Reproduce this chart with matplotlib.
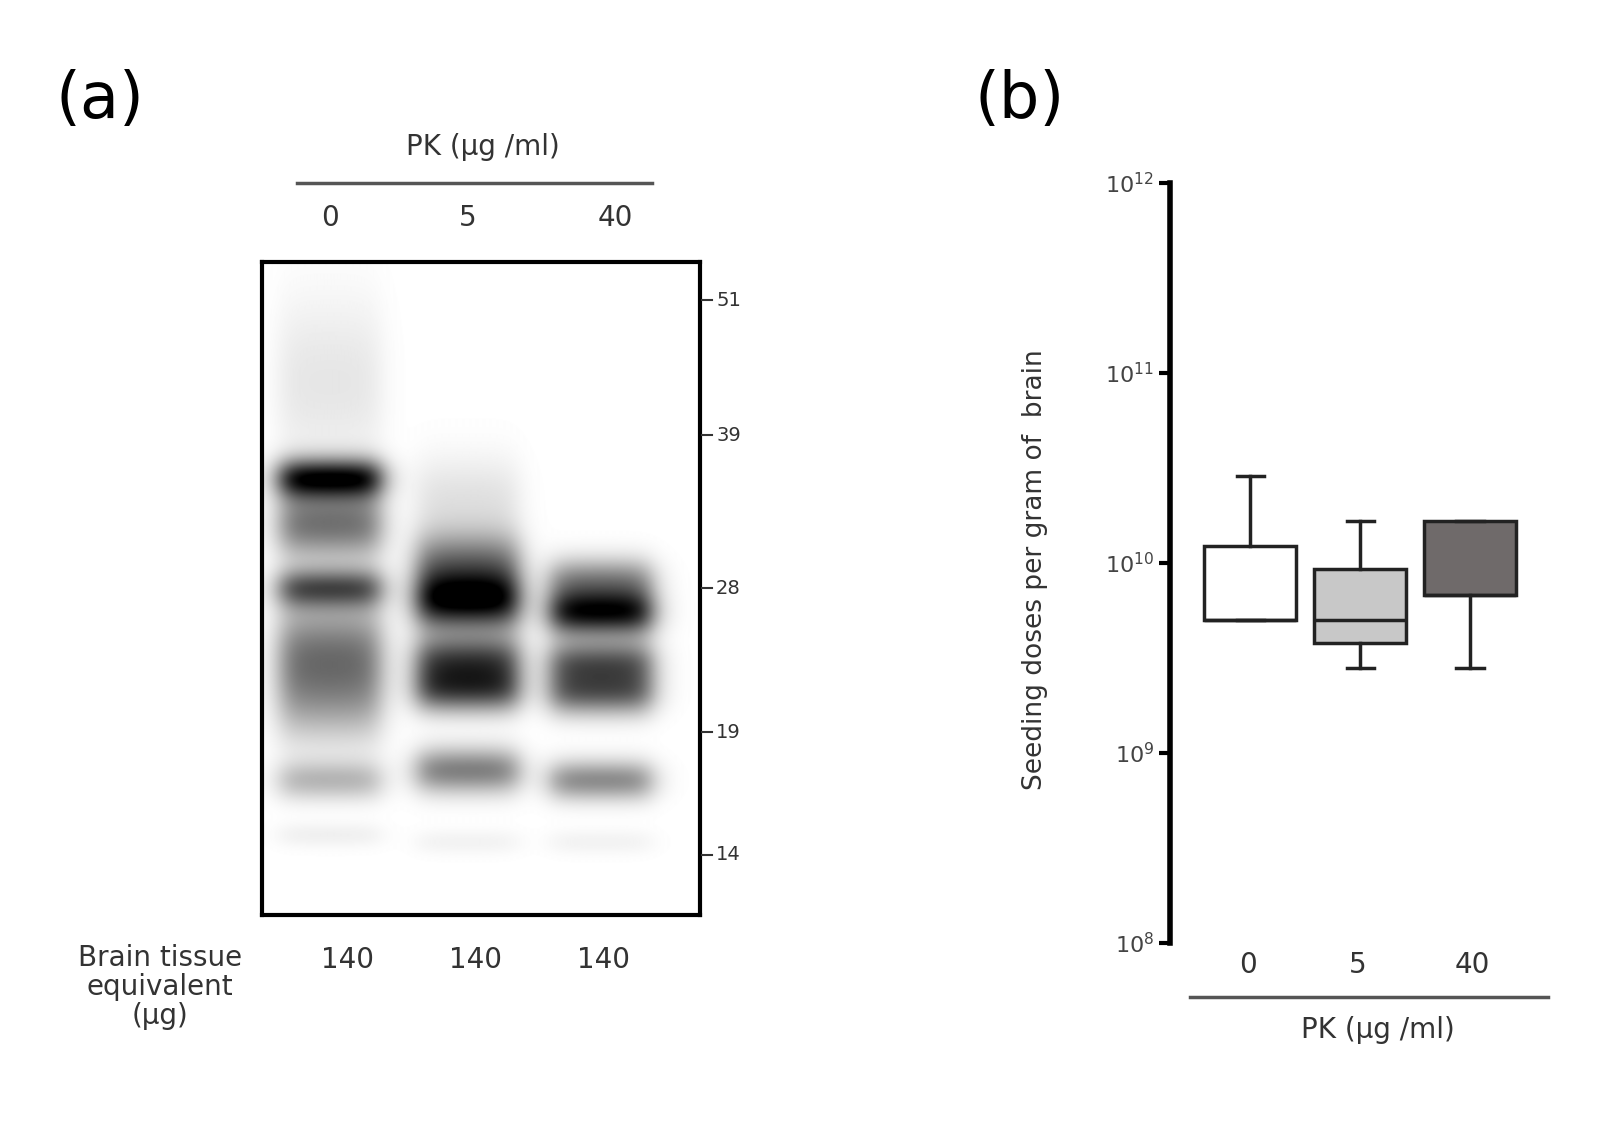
import numpy as np
import matplotlib
matplotlib.use("Agg")
import matplotlib.pyplot as plt
from matplotlib.lines import Line2D

# ---- data ----
pk_labels = ["0", "5", "40"]
tissue_labels = ["140", "140", "140"]
mw_labels = ["51", "39", "28", "19", "14"]
mw_rel = [38, 173, 326, 470, 593]          # migration (px from gel top)
lane_centers = [0.155, 0.47, 0.775]
lane_halfwidth = [0.13, 0.13, 0.13]
# bands per lane: (position, intensity, sigma)
lane0_pos = [120, 216, 262, 326, 385, 435, 518, 573]
lane0_int = [0.10, 0.95, 0.55, 0.65, 0.45, 0.35, 0.28, 0.06]
lane0_sig = [60, 14, 24, 14, 32, 32, 14, 9]
lane5_pos = [240, 300, 338, 398, 428, 508, 580]
lane5_int = [0.12, 0.50, 1.0, 0.70, 0.65, 0.50, 0.05]
lane5_sig = [32, 22, 20, 18, 16, 16, 9]
lane40_pos = [318, 350, 400, 430, 518, 580]
lane40_int = [0.45, 0.95, 0.60, 0.60, 0.45, 0.05]
lane40_sig = [16, 16, 16, 16, 14, 9]
# box plot (log10 seeding doses)
box_whislo = [9.70, 9.45, 9.45]
box_q1 = [9.70, 9.58, 9.83]
box_med = [9.70, 9.70, 9.83]
box_q3 = [10.09, 9.97, 10.22]
box_whishi = [10.46, 10.22, 10.22]
box_colors = ["#ffffff", "#c8c8c8", "#6f6a6a"]

W, H = 1620, 1128
fig = plt.figure(figsize=(16.2, 11.28), dpi=100)
def fx(x): return x / W
def fy(y): return 1 - y / H
def ftext(x, y, s, **kw):
    fig.text(fx(x), fy(y), s, ha=kw.pop("ha", "center"), va=kw.pop("va", "center"), **kw)
def fline(x0, y0, x1, y1, **kw):
    fig.add_artist(Line2D([fx(x0), fx(x1)], [fy(y0), fy(y1)], transform=fig.transFigure, **kw))

# ---- panel (a) ----
gx0, gx1, gy0, gy1 = 262, 700, 262, 915
axg = fig.add_axes([fx(gx0), fy(gy1), fx(gx1 - gx0), (gy1 - gy0) / H])
gh = gy1 - gy0
yy = np.arange(gh)[:, None]
xx = np.linspace(0, 1, 440)[None, :]
img = np.zeros((gh, 440))
lanes = [(lane0_pos, lane0_int, lane0_sig), (lane5_pos, lane5_int, lane5_sig),
         (lane40_pos, lane40_int, lane40_sig)]
for (pos, inten, sig), c, hw in zip(lanes, lane_centers, lane_halfwidth):
    prof = np.zeros((gh, 1))
    for p, a, s in zip(pos, inten, sig):
        prof += a * np.exp(-0.5 * ((yy - p) / s) ** 2)
    xprof = 1 / (1 + np.exp((np.abs(xx - c) - hw * 0.88) / 0.018))
    img += prof * xprof
img = np.clip(img, 0, 1)
axg.imshow(img, cmap="gray_r", vmin=0, vmax=1, aspect="auto",
           extent=[0, 1, gh, 0], interpolation="bilinear")
axg.set_xlim(0, 1); axg.set_ylim(gh, 0)
axg.set_xticks([]); axg.set_yticks([])
for s in axg.spines.values():
    s.set_linewidth(3)
for lab, p in zip(mw_labels, mw_rel):
    fline(702, gy0 + p, 712, gy0 + p, color="#333", lw=1.5)
    ftext(716, gy0 + p, lab, ha="left", fontsize=14, color="#333")

ftext(100, 100, "(a)", fontsize=46)
ftext(483, 147, "PK (µg /ml)", fontsize=20, color="#333")
fline(297, 183, 652, 183, color="#555", lw=2.5)
for lab, x in zip(pk_labels, [330, 468, 615]):
    ftext(x, 218, lab, fontsize=20, color="#333")
ftext(160, 987, "Brain tissue\nequivalent\n(µg)", fontsize=20, color="#333", linespacing=1.05)
for lab, x in zip(tissue_labels, [347, 475, 603]):
    ftext(x, 960, lab, fontsize=20, color="#333")

# ---- panel (b) ----
ax = fig.add_axes([fx(1170), fy(943), fx(1545 - 1170), (943 - 183) / H])
stats = []
for i in range(3):
    stats.append(dict(whislo=box_whislo[i], q1=box_q1[i], med=box_med[i],
                      q3=box_q3[i], whishi=box_whishi[i], fliers=[]))
bp = ax.bxp(stats, positions=[1, 2, 3], widths=0.84, patch_artist=True,
            boxprops=dict(linewidth=2.5, edgecolor="#222"),
            medianprops=dict(color="#222", linewidth=2.5),
            whiskerprops=dict(color="#222", linewidth=2.5),
            capprops=dict(color="#222", linewidth=2.5), capwidths=0.25)
for patch, col in zip(bp["boxes"], box_colors):
    patch.set_facecolor(col)
ax.set_ylim(8, 12)
ax.set_xlim(0.27, 3.68)
ax.set_yticks([8, 9, 10, 11, 12])
ax.set_yticklabels([r"$10^{8}$", r"$10^{9}$", r"$10^{10}$", r"$10^{11}$", r"$10^{12}$"],
                   fontsize=16, color="#444")
ax.set_xticks([])
for s in ["top", "right", "bottom"]:
    ax.spines[s].set_visible(False)
ax.spines["left"].set_linewidth(4)
ax.tick_params(axis="y", length=8, width=3, direction="out")
ftext(1035, 570, "Seeding doses per gram of  brain", fontsize=19, rotation=90, color="#333")
ftext(1020, 100, "(b)", fontsize=46)
for lab, x in zip(pk_labels, [1248, 1358, 1472]):
    ftext(x, 965, lab, fontsize=20, color="#333")
fline(1190, 997, 1548, 997, color="#555", lw=2.5)
ftext(1378, 1030, "PK (µg /ml)", fontsize=20, color="#333")

fig.savefig("out.png", dpi=100)
